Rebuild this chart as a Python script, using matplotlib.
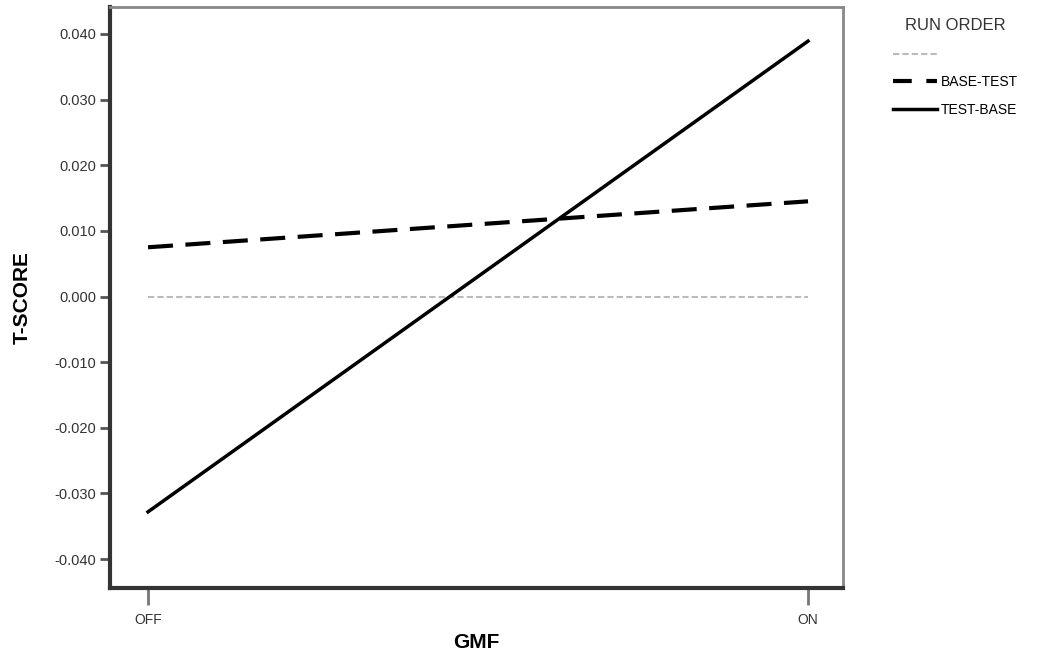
import matplotlib
matplotlib.use("Agg")
import matplotlib.pyplot as plt
from matplotlib.lines import Line2D

plt.rcParams['font.family'] = ['Liberation Sans', 'DejaVu Sans']

categories = ["OFF", "ON"]
series_names = ["", "BASE-TEST", "TEST-BASE"]
zero_line = [0.0, 0.0]
base_test = [0.0075, 0.0145]
test_base = [-0.0328, 0.0389]
yticks = [-0.04, -0.03, -0.02, -0.01, 0.0, 0.01, 0.02, 0.03, 0.04]
ytick_labels = ["-0.040", "-0.030", "-0.020", "-0.010", "0.000", "0.010", "0.020", "0.030", "0.040"]

fig = plt.figure(figsize=(10.5, 6.59), dpi=100)
W, H = 1050, 659
left, right, top, bottom = 110, 843, 7, 588
ax = fig.add_axes([left / W, 1 - bottom / H, (right - left) / W, (bottom - top) / H])

x = list(range(len(categories)))
ax.plot(x, zero_line, color="#bbbbbb", lw=1.5, linestyle=(0, (3, 1.5)))
ax.plot(x, base_test, color="black", lw=3, linestyle=(0, (6, 3)))
ax.plot(x, test_base, color="black", lw=2.5, linestyle="-")

ax.set_xlim(-0.0576, 1.053)
ax.set_ylim(-0.0444, 0.0441)
ax.set_xticks(x)
ax.set_xticklabels(categories, fontsize=10, color="#333333")
ax.set_yticks(yticks)
ax.set_yticklabels(ytick_labels, fontsize=10.5, color="#333333")
ax.tick_params(axis="y", direction="out", length=7, width=2, color="#555555", pad=3)
ax.tick_params(axis="x", direction="out", length=12, width=2, color="#777777", pad=6)

for s in ["left", "bottom"]:
    ax.spines[s].set_linewidth(3)
    ax.spines[s].set_color("#333333")
for s in ["top", "right"]:
    ax.spines[s].set_linewidth(2)
    ax.spines[s].set_color("#888888")

ax.set_ylabel("T-SCORE", fontsize=15, fontweight="bold", labelpad=16)
ax.set_xlabel("GMF", fontsize=15, fontweight="bold", labelpad=4)

handles = [
    Line2D([], [], color="#bbbbbb", lw=1.5, linestyle=(0, (3, 1.5))),
    Line2D([], [], color="black", lw=3, linestyle=(0, (4.5, 3.5))),
    Line2D([], [], color="black", lw=2.5, linestyle="-"),
]
leg = fig.legend(handles, series_names, title="RUN ORDER", loc="upper left",
                 bbox_to_anchor=(880 / W, 1 - 6 / H), frameon=False,
                 fontsize=10, title_fontsize=12, handlelength=3.2,
                 handletextpad=0.3, labelspacing=1.0, alignment="center")
leg.get_title().set_color("#333333")

fig.savefig("out.png", dpi=100)
